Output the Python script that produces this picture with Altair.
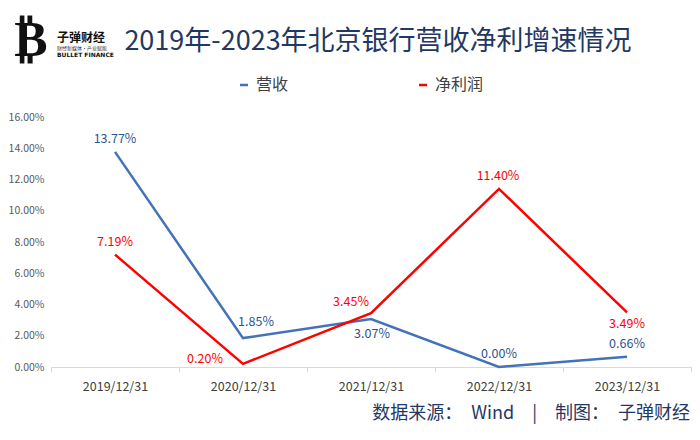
import altair as alt
import pandas as pd

years = ["2019/12/31", "2020/12/31", "2021/12/31", "2022/12/31", "2023/12/31"]
revenue = [13.77, 1.85, 3.07, 0.00, 0.66]
profit = [7.19, 0.20, 3.45, 11.40, 3.49]
series_names = ["营收", "净利润"]
y_ticks = [0, 2, 4, 6, 8, 10, 12, 14, 16]

rows = []
for y, v in zip(years, revenue):
    rows.append({"year": y, "series": "营收", "value": v})
for y, v in zip(years, profit):
    rows.append({"year": y, "series": "净利润", "value": v})
df = pd.DataFrame(rows)

BLUE = "#4472B8"
BLUE_TXT = "#2B5490"
RED = "#FF0000"
FONT = "Noto Sans CJK SC"

base = alt.Chart(df)

x_enc = alt.X("year:N", sort=years, scale=alt.Scale(type="band", paddingInner=0, paddingOuter=0),
              axis=alt.Axis(title=None, labelAngle=0, labelFontSize=12.5, labelColor="#404040",
                            labelFont=FONT, labelPadding=8, domainColor="#D9D9D9",
                            tickColor="#D9D9D9", tickSize=5, tickBand="extent", grid=False))
y_enc = alt.Y("value:Q", scale=alt.Scale(domain=[0, 16], nice=False),
              axis=alt.Axis(title=None, values=y_ticks, labelExpr="format(datum.value, '.2f') + '%'",
                            labelFontSize=10.5, labelColor="#595959", labelFont=FONT, labelPadding=7,
                            labelOverlap=False, domain=False, ticks=False, grid=False))

lines = base.mark_line(strokeWidth=2.5).encode(
    x=x_enc,
    y=y_enc,
    color=alt.Color("series:N", scale=alt.Scale(domain=series_names, range=[BLUE, RED]),
                    legend=alt.Legend(title=None, orient="none", legendX=185, legendY=-40,
                                      direction="horizontal", symbolType="stroke", symbolSize=64,
                                      symbolStrokeWidth=2.5, labelFontSize=16, labelFont=FONT,
                                      labelColor="#404040", columnPadding=125, symbolOffset=0,
                                      labelOffset=4)),
    detail="series:N",
)

# label offsets (dx, dy) per series/year
offsets = {
    ("营收", "2019/12/31"): (0, -13),
    ("营收", "2020/12/31"): (13, -16),
    ("营收", "2021/12/31"): (1, 15),
    ("营收", "2022/12/31"): (0, -13),
    ("营收", "2023/12/31"): (0, -13),
    ("净利润", "2019/12/31"): (0, -13),
    ("净利润", "2020/12/31"): (-38, -5),
    ("净利润", "2021/12/31"): (-20, -11),
    ("净利润", "2022/12/31"): (-1, -13),
    ("净利润", "2023/12/31"): (0, 12),
}

layers = [lines]
for (s, yr), (dx, dy) in offsets.items():
    col = BLUE_TXT if s == "营收" else RED
    t = base.transform_filter(
        (alt.datum.series == s) & (alt.datum.year == yr)
    ).transform_calculate(
        label="format(datum.value, '.2f') + '%'"
    ).mark_text(fontSize=12.5, font=FONT, color=col, dx=dx, dy=dy, baseline="middle").encode(
        x=x_enc, y=y_enc, text="label:N"
    )
    layers.append(t)

SP = "\u2002"
deco = pd.DataFrame({"a": [0]})
title = alt.Chart(deco).mark_text(text="2019年-2023年北京银行营收净利增速情况", fontSize=27, font=FONT,
                                  color="#1F3864", baseline="middle", align="center").encode(
    x=alt.value(327), y=alt.value(-75))
footer = alt.Chart(deco).mark_text(text="数据来源：" + SP + "Wind" + SP + SP + "|" + SP + SP + "制图：" + SP + "子弹财经",
                                   fontSize=18, font=FONT,
                                   color="#1F3864", baseline="middle", align="right").encode(
    x=alt.value(639), y=alt.value(297))
logo_b = alt.Chart(deco).mark_text(text="₿", fontSize=50, font="DejaVu Sans", fontWeight="bold",
                                   color="#111111", baseline="middle", align="center").encode(
    x=alt.value(-20), y=alt.value(-76))
logo_t = alt.Chart(deco).mark_text(text="子弹财经", fontSize=12, font=FONT, fontWeight="bold",
                                   color="#111111", baseline="middle", align="left").encode(
    x=alt.value(6), y=alt.value(-79))
logo_s = alt.Chart(deco).mark_text(text="财经新媒体·产业赋能", fontSize=5, font=FONT,
                                   color="#333333", baseline="middle", align="left").encode(
    x=alt.value(6), y=alt.value(-69))
logo_e = alt.Chart(deco).mark_text(text="BULLET FINANCE", fontSize=6, font="DejaVu Sans", fontWeight="bold",
                                   color="#111111", baseline="middle", align="left").encode(
    x=alt.value(6), y=alt.value(-62))

chart = alt.layer(*layers, title, footer, logo_b, logo_t, logo_s, logo_e).properties(
    width=640, height=250,
    autosize=alt.AutoSizeParams(type="none"),
    padding={"left": 43, "top": 109, "right": 1, "bottom": 65},
    background="white",
).configure_view(stroke=None)

chart.save("out.html", embed_options={"renderer": "svg", "actions": False})
